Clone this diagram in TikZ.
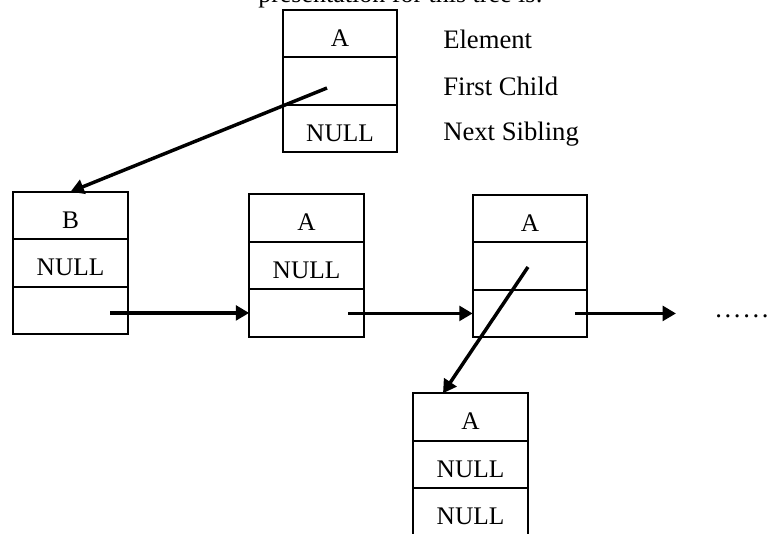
\documentclass[tikz,border=0pt]{standalone}
\usepackage{fontspec}
\setmainfont{Liberation Serif}
\usetikzlibrary{arrows.meta,positioning}

\begin{document}
\begin{tikzpicture}[x=0.75pt,y=-0.75pt]
	\useasboundingbox (0,0) rectangle (769,533);
	\clip (0,0) rectangle (769,533);
	\node[anchor=base east,inner sep=0pt,font=\fontsize{19.5}{22}\selectfont] (title) at (543,2) {presentation for this tree is:};
	\begin{scope}[every node/.style={draw,line width=1.5pt,minimum width=86pt,minimum height=35.6pt,inner sep=0pt,outer sep=0pt,text height=19pt,text depth=0pt,font=\fontsize{19}{22}\selectfont}]
		% root
		\node (rE) at (340,33.5) {A};
		\node[below=0pt of rE] (rC) {};
		\node[below=0pt of rC] (rS) {NULL};
		% first child
		\node (bE) at (70.5,215.5) {B};
		\node[below=0pt of bE] (bC) {NULL};
		\node[below=0pt of bC] (bS) {};
		% siblings
		\node (aE) at (306.5,218) {A};
		\node[below=0pt of aE] (aC) {NULL};
		\node[below=0pt of aC] (aS) {};
		\node (cE) at (530,218.5) {A};
		\node[below=0pt of cE] (cC) {};
		\node[below=0pt of cC] (cS) {};
		% child of the last one
		\node (dE) at (470.5,417) {A};
		\node[below=0pt of dE] (dC) {NULL};
		\node[below=0pt of dC] (dS) {NULL};
	\end{scope}
	\begin{scope}[every node/.style={anchor=base west,inner sep=0pt,font=\fontsize{20}{22}\selectfont}]
		\node (lEl) at (443,48) {Element};
		\node (lFc) at (443,95) {First Child};
		\node (lNs) at (443,140) {Next Sibling};
		\node (dots) at (715,317) {.\kern2pt.\kern2pt.\kern2pt.\kern2pt.\kern2pt.};
	\end{scope}

	\coordinate (rCp) at (327,88);
	\coordinate (bSp) at (110,0 |- aS.west);
	\coordinate (aSp) at (348,0 |- cS.west);
	\coordinate (cSp) at (575,0 |- cS.east);
	\coordinate (more) at (676,0 |- cS.east);
	\coordinate (cCp) at (528,267);
	\coordinate (dIn) at (443,0 |- dE.north);
	\begin{scope}[every edge/.style={draw,line width=2.6pt,-{Triangle[length=10pt,width=11pt]}}]
		\path (rCp) edge (bE.north);
		\path (bSp) edge (aS.west);
		\path (aSp) edge (cS.west);
		\path (cSp) edge (more);
		\path (cCp) edge (dIn);
	\end{scope}
\end{tikzpicture}
\end{document}
